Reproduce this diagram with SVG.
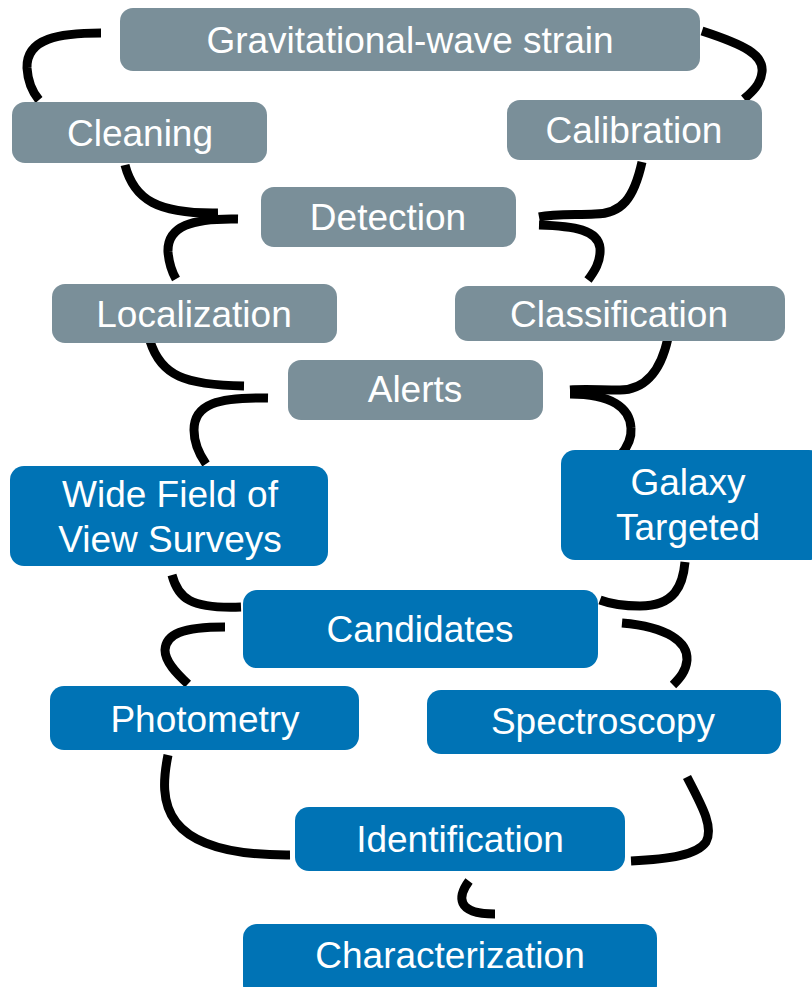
<svg xmlns="http://www.w3.org/2000/svg" width="812" height="987" viewBox="0 0 812 987">
<style>
.g{fill:#7a8f99}
.b{fill:#0073b5}
text{font-family:"Liberation Sans",Arial,sans-serif;font-size:37px;fill:#fff;text-anchor:middle}
.c{fill:none;stroke:#000;stroke-width:9}
</style>
<rect width="812" height="987" fill="#fff"/>
<g id="connectors">
<path class="c" d="M101,33 C60,33 26,38 27,68 C28,84 34,94 39,100"/>
<path class="c" d="M702,31 C745,45 764,55 762,72 C761,84 752,92 744,99"/>
<path class="c" d="M125,165 C134,200 158,214 218,213"/>
<path class="c" d="M238,219 C192,218 167,226 168,252 C169,264 172,272 176,279"/>
<path class="c" d="M642,162 C634,198 622,214 595,214 C575,215 555,214 539,217"/>
<path class="c" d="M539,225 C575,226 598,230 600,248 C601,262 594,272 588,280"/>
<path class="c" d="M150,341 C161,376 185,385 244,386"/>
<path class="c" d="M268,398 C218,397 194,404 194,430 C194,444 199,454 206,464"/>
<path class="c" d="M668,338 C660,375 642,390 620,390 C600,390 585,389 570,390"/>
<path class="c" d="M570,394 C612,394 630,408 631,428 C632,440 626,449 620,456"/>
<path class="c" d="M172,575 C178,598 190,609 241,607"/>
<path class="c" d="M225,627 C182,627 166,634 165,650 C165,662 177,674 188,684"/>
<path class="c" d="M685,562 C683,585 675,606 640,606 C620,606 608,603 600,600"/>
<path class="c" d="M622,623 C668,627 688,642 687,660 C686,671 680,678 673,685"/>
<path class="c" d="M168,755 C159,800 158,856 290,855"/>
<path class="c" d="M687,777 C702,806 714,827 706,842 C697,855 670,859 631,861"/>
<path class="c" d="M469,881 C458,896 455,914 495,914"/>
</g>
<g id="n-strain"><rect class="g" x="120" y="8" width="580" height="63" rx="13"/><text x="410" y="53">Gravitational-wave strain</text></g>
<g id="n-cleaning"><rect class="g" x="12" y="102" width="255" height="61" rx="13"/><text x="140" y="146">Cleaning</text></g>
<g id="n-calibration"><rect class="g" x="507" y="100" width="255" height="60" rx="13"/><text x="634" y="143">Calibration</text></g>
<g id="n-detection"><rect class="g" x="261" y="187" width="255" height="60" rx="13"/><text x="388" y="230">Detection</text></g>
<g id="n-localization"><rect class="g" x="52" y="284" width="285" height="59" rx="13"/><text x="194" y="327">Localization</text></g>
<g id="n-classification"><rect class="g" x="455" y="286" width="330" height="55" rx="13"/><text x="619" y="327">Classification</text></g>
<g id="n-alerts"><rect class="g" x="288" y="360" width="255" height="60" rx="13"/><text x="415" y="402">Alerts</text></g>
<g id="n-widefield"><rect class="b" x="10" y="466" width="318" height="100" rx="14"/><text x="170" y="507">Wide Field of</text><text x="170" y="552">View Surveys</text></g>
<g id="n-galaxy"><rect class="b" x="561" y="450" width="262" height="110" rx="14"/><text x="688" y="495">Galaxy</text><text x="688" y="540">Targeted</text></g>
<g id="n-candidates"><rect class="b" x="243" y="590" width="355" height="78" rx="14"/><text x="420" y="642">Candidates</text></g>
<g id="n-photometry"><rect class="b" x="50" y="686" width="309" height="64" rx="14"/><text x="205" y="732">Photometry</text></g>
<g id="n-spectroscopy"><rect class="b" x="427" y="690" width="354" height="64" rx="14"/><text x="603" y="734">Spectroscopy</text></g>
<g id="n-identification"><rect class="b" x="295" y="807" width="330" height="64" rx="14"/><text x="460" y="852">Identification</text></g>
<g id="n-characterization"><rect class="b" x="243" y="924" width="414" height="75" rx="14"/><text x="450" y="968">Characterization</text></g>
</svg>
